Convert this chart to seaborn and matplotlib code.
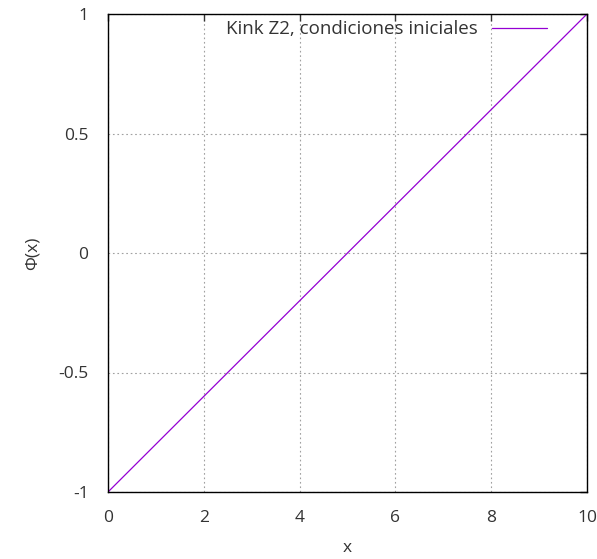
import matplotlib
matplotlib.use("Agg")
import matplotlib.pyplot as plt
import seaborn as sns
import pandas as pd

# data
x_vals = [0, 1, 2, 3, 4, 5, 6, 7, 8, 9, 10]
phi_vals = [-1.0, -0.8, -0.6, -0.4, -0.2, 0.0, 0.2, 0.4, 0.6, 0.8, 1.0]
series_label = "Kink Z2, condiciones iniciales"
x_ticks = [0, 2, 4, 6, 8, 10]
y_ticks = [-1, -0.5, 0, 0.5, 1]
y_ticklabels = ["-1", "-0.5", "0", "0.5", "1"]

sns.set_style("white")
plt.rcParams['font.family'] = ['Open Sans', 'DejaVu Sans']

df = pd.DataFrame({"x": x_vals, "phi": phi_vals})

fig = plt.figure(figsize=(5.97, 5.59), dpi=100)
ax = fig.add_axes([108 / 597, 67 / 559, 479 / 597, 478 / 559])

sns.lineplot(data=df, x="x", y="phi", color="#9400D3", linewidth=0.9,
             label=series_label, ax=ax)

ax.set_xlim(0, 10)
ax.set_ylim(-1, 1)
ax.set_xticks(x_ticks)
ax.set_yticks(y_ticks)
ax.set_yticklabels(y_ticklabels)
ax.tick_params(direction="in", length=5, width=1, top=True, right=True,
               labelsize=12.5, colors="#333333", pad=14)
ax.tick_params(axis="x", pad=13)
for s in ax.spines.values():
    s.set_color("black")
    s.set_linewidth(1)
ax.grid(True, color="#a0a0a0", linestyle=(0, (1.5, 2.5)), linewidth=0.8)

ax.set_xlabel("x", fontsize=12.5, color="#333333", labelpad=10)
ax.set_ylabel("Φ(x)", fontsize=12.5, color="#333333", labelpad=13)

ax.legend(loc="upper right", frameon=False, markerfirst=False, fontsize=13.5,
          handlelength=2.93, handletextpad=0.75, bbox_to_anchor=(0.951, 1.022),
          labelcolor="#333333")

fig.savefig("out.png", dpi=100)
